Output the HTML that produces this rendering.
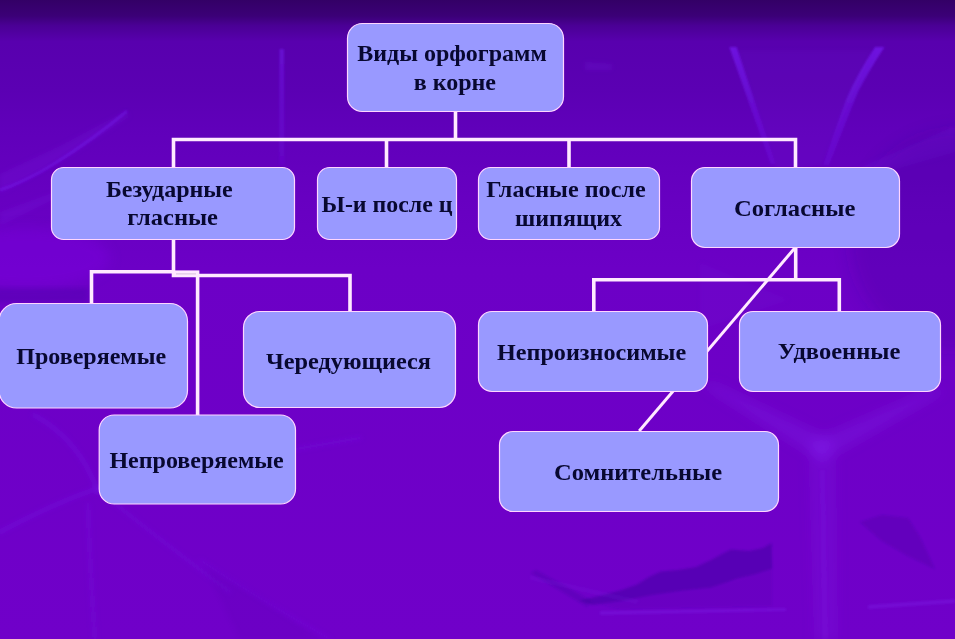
<!DOCTYPE html>
<html lang="ru"><head><meta charset="utf-8"><title>Виды орфограмм в корне</title>
<style>
html,body{margin:0;padding:0;background:#6600c0;}
body{width:955px;height:639px;overflow:hidden;position:relative;font-family:"Liberation Serif",serif;}
svg{position:absolute;left:0;top:0;display:block}
text{font-family:"Liberation Serif",serif;font-weight:bold;font-size:24px;fill:#080830}
</style></head><body>
<svg width="955" height="639" viewBox="0 0 955 639">
<defs>
<linearGradient id="bg" x1="0" y1="0" x2="0" y2="1">
<stop offset="0" stop-color="#330066"/>
<stop offset="0.025" stop-color="#3b0077"/>
<stop offset="0.04" stop-color="#4a0095"/>
<stop offset="0.065" stop-color="#5800ae"/>
<stop offset="0.14" stop-color="#5b00b3"/>
<stop offset="0.2" stop-color="#6000ba"/>
<stop offset="0.31" stop-color="#6700c1"/>
<stop offset="0.42" stop-color="#6c00c6"/>
<stop offset="1" stop-color="#7000c9"/>
</linearGradient>
<filter id="b1" x="-20%" y="-20%" width="140%" height="140%"><feGaussianBlur stdDeviation="1.2"/></filter>
<filter id="b2" x="-20%" y="-20%" width="140%" height="140%"><feGaussianBlur stdDeviation="2.5"/></filter>
<filter id="b3" x="-20%" y="-20%" width="140%" height="140%"><feGaussianBlur stdDeviation="6"/></filter>
<filter id="b0" x="-20%" y="-20%" width="140%" height="140%"><feGaussianBlur stdDeviation="0.8"/></filter>
<linearGradient id="vg" gradientUnits="userSpaceOnUse" x1="0" y1="47" x2="0" y2="165">
<stop offset="0" stop-color="#7c22ff" stop-opacity="0.6"/>
<stop offset="0.5" stop-color="#7c22ff" stop-opacity="0.36"/>
<stop offset="1" stop-color="#7c22ff" stop-opacity="0.2"/>
</linearGradient>
<linearGradient id="vg2" gradientUnits="userSpaceOnUse" x1="0" y1="49" x2="0" y2="165">
<stop offset="0" stop-color="#7c22ff" stop-opacity="0.42"/>
<stop offset="0.5" stop-color="#7c22ff" stop-opacity="0.25"/>
<stop offset="1" stop-color="#7c22ff" stop-opacity="0.12"/>
</linearGradient>
</defs>
<rect x="0" y="0" width="955" height="639" fill="url(#bg)"/>
<g id="decor">
<!-- light streaks (upper left) -->
<g fill="#8a3cff" filter="url(#b2)">
<polygon points="0,174 60,146 126,111 130,116 70,156 0,194" opacity="0.12"/>
<polygon points="0,212 55,192 58,197 0,226" opacity="0.11"/>
<polygon points="585,62 612,64 612,70 585,70" opacity="0.138"/>
</g>
<g filter="url(#b0)">
<path d="M127,111 Q95,138 54,164 Q25,182 0,190" fill="none" stroke="#7c22ff" stroke-width="3.2" opacity="0.32"/>
<polygon points="279.5,49 284,49 284.5,165 279,165" fill="url(#vg2)"/>
</g>
<!-- V shape behind Soglasnye -->
<g fill="url(#vg)" filter="url(#b0)">
<polygon points="729.3,47 736.6,47 775.5,164 770.5,164"/>
<path d="M875,47 L884.5,47 Q868,72 858,92 Q848,116 829,165 L823,165 Q838,122 846,100 Q856,76 875,47 Z"/>
</g>
<g fill="#8a3cff" filter="url(#b2)">
<polygon points="737,50 873,50 822,165 776,170" opacity="0.05"/>
<polygon points="955,126 955,152 850,182 846,174" opacity="0.14"/>
<polygon points="700,262 790,300 700,330" opacity="0.05"/>
</g>
<!-- large soft light areas -->
<g filter="url(#b3)">
<ellipse cx="25" cy="258" rx="85" ry="30" fill="#8000e8" opacity="0.32"/>
<ellipse cx="960" cy="240" rx="110" ry="110" fill="#3a0090" opacity="0.2" filter="url(#b3)"/>
</g>
<rect x="-5" y="288" width="93" height="14" fill="#4000a0" opacity="0.28" filter="url(#b2)"/>
<!-- Y-shaped light bands right-middle -->
<g fill="#8a30ff" filter="url(#b3)">
<polygon points="700,384 716,384 834,440 822,462" opacity="0.2"/>
<polygon points="948,390 928,390 808,442 822,462" opacity="0.2"/>
<polygon points="808,444 836,444 838,639 814,639" opacity="0.13"/>
</g>
<!-- lower-left streaks -->
<g fill="none" stroke="#7c2cff" filter="url(#b2)" stroke-linecap="round">
<path d="M0,532 Q50,505 98,488" stroke-width="5" opacity="0.194"/>
<path d="M34,415 Q80,440 98,492" stroke-width="5" opacity="0.176"/>
<path d="M98,490 Q160,540 230,592" stroke-width="4" opacity="0.158"/>
<path d="M88,505 Q90,570 95,639" stroke-width="5" opacity="0.132"/>
<path d="M296,449 L360,438" stroke-width="4" opacity="0.176"/>
<path d="M200,560 Q260,600 330,639" stroke-width="3" opacity="0.176"/>
</g>
<polygon points="205,566 260,598 318,639 240,639" fill="#5a00b0" opacity="0.158" filter="url(#b2)"/>
<!-- lower-right dark feather -->
<g filter="url(#b1)">
<polygon points="771.6,543 763,548 749,551 731,549.5 722,554 711,560 696,567 678,570 661,571.5 649,577 637,584.5 620,590.5 599,596 579,600.5 593,605 623,600.5 652,595 684,590.5 711,587.5 725,583 737,578.7 755,574.3 772.2,568.4" fill="#300090" opacity="0.34"/>
<polygon points="772,568 772,606 620,609 600,604 652,595 711,587.5 755,574.3" fill="#300090" opacity="0.10"/>
<polygon points="531,573 536,570 592,601 587,607" fill="#300090" opacity="0.18"/>
<polygon points="860,522 882,515 908,518 920,537 935,569 908,556 882,541" fill="#300090" opacity="0.2"/>
</g>
<g fill="#8a3cff" filter="url(#b1)">
<polygon points="600,611 786,608 786,611 600,615" opacity="0.22"/>
<polygon points="868,605 955,599 955,603 868,609" opacity="0.22"/>
<polygon points="820,470 825,470 828,639 822,639" opacity="0.08"/>
<polygon points="530,575 640,600 636,604 530,580" opacity="0.0825"/>
</g>
</g>


<g fill="none" stroke="#ffeaff" stroke-width="3.6" stroke-linejoin="miter" stroke-linecap="butt">
<polyline points="455.5,112 455.5,139.5"/>
<polyline points="173.5,167 173.5,139.5 795.5,139.5 795.5,167"/>
<polyline points="386.5,139.5 386.5,167"/>
<polyline points="569,139.5 569,167"/>
<polyline points="173.5,240 173.5,271.7 91.5,271.7 91.5,303"/>
<polyline points="173.5,272.2 199.35,272.2"/>
<polyline points="173.5,271.7 173.5,275.5 350,275.5 350,311"/>
<polyline points="197.6,275.5 197.6,415"/>
<polyline points="795.7,248 795.7,279.7"/>
<polyline points="593.8,311 593.8,279.7 839.3,279.7 839.3,311"/>
<line x1="794.8" y1="248" x2="639.2" y2="431" stroke-width="3.0"/>
</g>
<line x1="176" y1="273.9" x2="196" y2="273.9" stroke="#cdb8d6" stroke-width="0.8"/>
<g fill="#9999ff" stroke="#ffd6ff" stroke-width="1.2">
<rect x="347.5" y="23.5" width="216" height="88" rx="14.8" ry="14.8"/>
<rect x="51.5" y="167.5" width="243" height="72" rx="12.2" ry="12.2"/>
<rect x="317.5" y="167.5" width="139" height="72" rx="12.2" ry="12.2"/>
<rect x="478.5" y="167.5" width="181" height="72" rx="12.2" ry="12.2"/>
<rect x="691.5" y="167.5" width="208" height="80" rx="13.5" ry="13.5"/>
<rect x="-1" y="303.5" width="188.5" height="104.5" rx="17.6" ry="17.6"/>
<rect x="243.5" y="311.5" width="212" height="96" rx="16.2" ry="16.2"/>
<rect x="99.2" y="415" width="196.3" height="89" rx="15" ry="15"/>
<rect x="478.5" y="311.5" width="229" height="80" rx="13.5" ry="13.5"/>
<rect x="739.5" y="311.5" width="201" height="80" rx="13.5" ry="13.5"/>
<rect x="499.5" y="431.5" width="279" height="80" rx="13.5" ry="13.5"/>
</g>
<g>
<text x="357.2" y="60.7">Виды орфограмм</text>
<text x="413.7" y="89.8">в корне</text>
<text x="105.9" y="196.5">Безударные</text>
<text x="127.2" y="225.4" textLength="90.8" lengthAdjust="spacingAndGlyphs">гласные</text>
<text x="321.5" y="212" textLength="131" lengthAdjust="spacingAndGlyphs">Ы-и после ц</text>
<text x="486.2" y="196.5" textLength="159.5" lengthAdjust="spacingAndGlyphs">Гласные после</text>
<text x="515" y="225.8">шипящих</text>
<text x="734" y="215.9" textLength="121.4" lengthAdjust="spacingAndGlyphs">Согласные</text>
<text x="16.3" y="363.8">Проверяемые</text>
<text x="266" y="368.5" textLength="165" lengthAdjust="spacingAndGlyphs">Чередующиеся</text>
<text x="109.4" y="468">Непроверяемые</text>
<text x="497" y="359.5" textLength="189.2" lengthAdjust="spacingAndGlyphs">Непроизносимые</text>
<text x="777.8" y="358.8" textLength="122.5" lengthAdjust="spacingAndGlyphs">Удвоенные</text>
<text x="554" y="480" textLength="168" lengthAdjust="spacingAndGlyphs">Сомнительные</text>
</g>
</svg></body></html>
